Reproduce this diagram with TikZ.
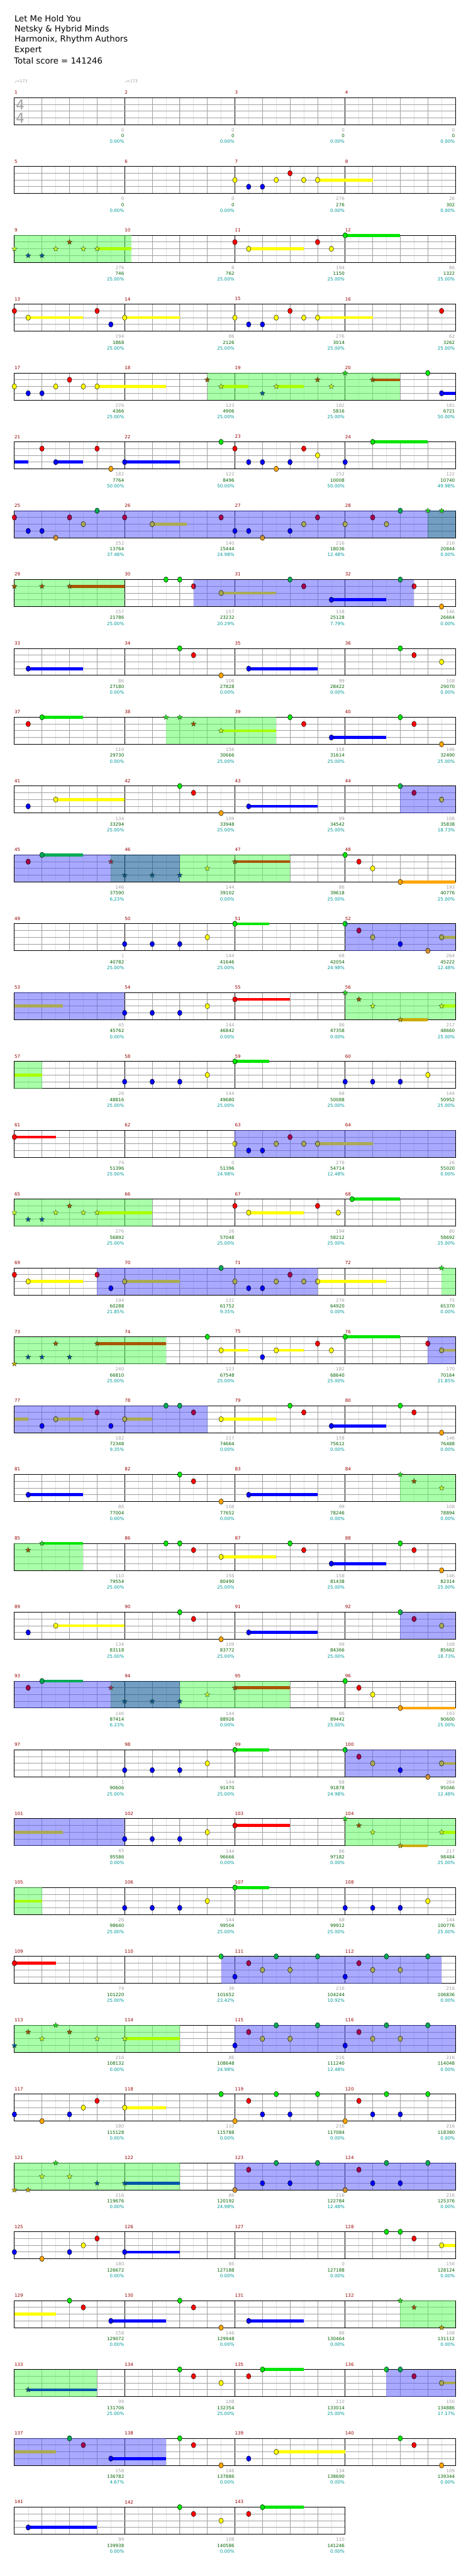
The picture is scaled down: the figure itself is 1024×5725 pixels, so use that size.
\documentclass[tikz,border=0pt]{standalone}
\usepackage{fontspec}
\setmainfont{DejaVu Sans}
\usetikzlibrary{shapes.geometric}
\definecolor{Gc}{HTML}{00E600}
\definecolor{Rc}{HTML}{FF0000}
\definecolor{Yc}{HTML}{FFFF00}
\definecolor{Bc}{HTML}{0000FF}
\definecolor{Oc}{HTML}{FFA500}
\definecolor{dG}{HTML}{00AA55}
\definecolor{dR}{HTML}{A8004F}
\definecolor{dY}{HTML}{AAAA55}
\definecolor{odOt}{HTML}{A88058}
\definecolor{sY}{HTML}{CCFF22}
\definecolor{sR}{HTML}{A05000}
\definecolor{sB}{HTML}{0050A0}
\definecolor{sG}{HTML}{22DD22}
\definecolor{sO}{HTML}{C8A000}
\definecolor{sP}{HTML}{A02868}
\definecolor{ssY}{HTML}{AAFF00}
\definecolor{ssR}{HTML}{AA5500}
\definecolor{ssB}{HTML}{0055AA}
\definecolor{ssO}{HTML}{CCAA00}
\definecolor{starline}{HTML}{2A4A1A}
\definecolor{lightl}{HTML}{E2E2E2}
\definecolor{beatl}{HTML}{A0A0A0}
\definecolor{gbgc}{HTML}{55FF55}
\definecolor{bbgc}{HTML}{5555FF}
\definecolor{tbgc}{HTML}{00508F}
\definecolor{mnumc}{HTML}{990000}
\definecolor{lgrayc}{HTML}{A0A0A0}
\definecolor{lgrnc}{HTML}{006400}
\definecolor{lpctc}{HTML}{009999}
\newcounter{stc}
\tikzset{
  notec/.style={draw=black,line width=0.6pt},
  starn/.style={star,star points=5,star point ratio=2.3,minimum size=12pt,inner sep=0pt,draw=starline,line width=0.5pt},
  leighth/.style={draw=lightl,line width=0.8pt},
  lbeat/.style={draw=beatl,line width=1pt},
  lmeas/.style={draw=black,line width=0.9pt},
  llane/.style={draw=beatl,line width=1.2pt},
  bord/.style={draw=black,line width=1.3pt},
  gbg/.style={fill=gbgc,fill opacity=0.5},
  bbg/.style={fill=bbgc,fill opacity=0.5},
  tbg/.style={fill=tbgc,fill opacity=0.55},
  mnum/.style={anchor=west,text=mnumc,font=\fontsize{10}{12}\selectfont,inner sep=0pt},
  lgray/.style={anchor=east,text=lgrayc,font=\fontsize{10}{12}\selectfont,inner sep=0pt},
  lgrn/.style={anchor=east,text=lgrnc,font=\fontsize{10}{12}\selectfont,inner sep=0pt},
  lpct/.style={anchor=east,text=lpctc,font=\fontsize{10}{12}\selectfont,inner sep=0pt},
  ttl/.style={anchor=west,text=black,font=\fontsize{18.5}{22}\selectfont,inner sep=0pt},
  tsig/.style={text=lgrayc,font=\fontsize{30}{32}\selectfont,inner sep=0pt},
  tempo/.style={anchor=west,text=lgrayc,font=\fontsize{9}{11}\selectfont,inner sep=0pt}
}
% grid of one row: row index, number of measures
\newcommand\crow[2]{%
  \pgfmathsetmacro\rtop{217+153*#1}%
  \pgfmathsetmacro\rend{32+245*#2}%
  \pgfmathtruncatemacro\rne{8*#2-1}%
  \pgfmathtruncatemacro\rnb{4*#2-1}%
  \pgfmathtruncatemacro\rnm{#2-1}%
  \foreach \vk in {1,...,\rne}{\draw[leighth] ({32+30.625*\vk},\rtop) -- ++(0,60);}
  \foreach \vk in {1,...,\rnb}{\draw[lbeat] ({32+61.25*\vk},\rtop) -- ++(0,60);}
  \foreach \vk in {1,...,\rnm}{\draw[lmeas] ({32+245*\vk},\rtop) -- ++(0,60);}
  \foreach \vk in {15,30,45}{\draw[llane] (32,{\rtop+\vk}) -- (\rend,{\rtop+\vk});}
  \draw[bord] (32,\rtop) rectangle (\rend,{\rtop+60});
  \foreach \vi in {1,...,#2}{\pgfmathtruncatemacro\rmn{4*#1+\vi}\node[mnum] (mn\rmn) at ({32+245*(\vi-1)},{\rtop-11.5}) {\rmn};}
}
\newcommand\cbg[4]{\fill[#4] ({32+61.25*#2},{217+153*#1}) rectangle ({32+61.25*#3},{217+153*#1+60});}
\newcommand\cnotes[2]{\foreach \vb/\vl/\vc in {#2}{\draw[notec,fill=\vc] ({32+61.25*\vb},{217+153*#1+15*\vl}) ellipse[x radius=5pt,y radius=6pt];}}
\newcommand\csus[2]{\foreach \va/\ve/\vl/\vc in {#2}{\fill[\vc] ({32+61.25*\va},{217+153*#1+15*\vl-3.25}) rectangle ({32+61.25*\ve},{217+153*#1+15*\vl+3.25});}}
\newcommand\cstars[2]{\foreach \vb/\vl/\vc in {#2}{\stepcounter{stc}\node[starn,fill=\vc] (st\arabic{stc}) at ({32+61.25*\vb},{217+153*#1+15*\vl}) {};}}
\newcommand\codo[2]{\foreach \vb in {#2}{\shade[top color=odOt,bottom color=Oc] ({32+61.25*\vb},{217+153*#1+60}) ellipse[x radius=5pt,y radius=6pt];\draw[notec] ({32+61.25*\vb},{217+153*#1+60}) ellipse[x radius=5pt,y radius=6pt];}}
\newcommand\chalf[5]{%
  \begin{scope}\clip ({32+61.25*#2-7},{217+153*#1+15*#3-8}) rectangle ({32+61.25*#2},{217+153*#1+15*#3+8});
  \fill[#4] ({32+61.25*#2},{217+153*#1+15*#3}) ellipse[x radius=5pt,y radius=6pt];\end{scope}
  \begin{scope}\clip ({32+61.25*#2},{217+153*#1+15*#3-8}) rectangle ({32+61.25*#2+7},{217+153*#1+15*#3+8});
  \fill[#5] ({32+61.25*#2},{217+153*#1+15*#3}) ellipse[x radius=5pt,y radius=6pt];\end{scope}
  \draw[notec] ({32+61.25*#2},{217+153*#1+15*#3}) ellipse[x radius=5pt,y radius=6pt];}
\newcommand\clabs[2]{\foreach \vi/\vg/\vn/\vp in {#2}{%
  \node[lgray] (lg#1x\vi) at ({31+245*\vi},{217+153*#1+72}) {\vg};
  \node[lgrn] (ln#1x\vi) at ({31+245*\vi},{217+153*#1+85}) {\vn};
  \node[lpct] (lp#1x\vi) at ({31+245*\vi},{217+153*#1+98}) {\vp\%};}}
% repeated row patterns
\newcommand\patA[1]{\crow{#1}{4}\cbg{#1}{14}{16}{bbg}\csus{#1}{1.5/4/2/Yc,8.5/11/3/Bc}%
  \cnotes{#1}{0.5/3/Bc,1.5/2/Yc,6/0/Gc,6.5/1/Rc,7.5/4/Oc,8.5/3/Bc,14.5/1/dR,15.5/2/dY}\chalf{#1}{14}{0}{Gc}{dG}}
\newcommand\patB[1]{\crow{#1}{4}\cbg{#1}{0}{3.5}{bbg}\cbg{#1}{3.5}{6}{tbg}\cbg{#1}{6}{10}{gbg}%
  \csus{#1}{1/2.5/0/dG,8/10/1/ssR,14/16/4/Oc}\cnotes{#1}{0.5/1/dR,1/0/dG,12/0/Gc,12.5/1/Rc,13/2/Yc,14/4/Oc}%
  \cstars{#1}{3.5/1/sP,4/3/sB,5/3/sB,6/3/sB,7/2/sY,8/1/sR}}
\newcommand\patC[1]{\crow{#1}{4}\cbg{#1}{12}{16}{bbg}\csus{#1}{8/9.25/0/Gc,15.5/16/2/dY}%
  \cnotes{#1}{4/3/Bc,5/3/Bc,6/3/Bc,7/2/Yc,8/0/Gc,12.5/1/dR,13/2/dY,14/3/Bc,15.5/2/dY}\chalf{#1}{12}{0}{Gc}{dG}\codo{#1}{15}}
\newcommand\patD[1]{\crow{#1}{4}\cbg{#1}{0}{4}{bbg}\cbg{#1}{12}{16}{gbg}%
  \csus{#1}{0/1.75/2/dY,8/10/1/Rc,14/15/4/ssO,15.5/16/2/ssY}\cnotes{#1}{4/3/Bc,5/3/Bc,6/3/Bc,7/2/Yc,8/1/Rc}%
  \cstars{#1}{12/0/sG,12.5/1/sR,13/2/sY,14/4/sO,15.5/2/sY}}
\newcommand\patE[1]{\crow{#1}{4}\cbg{#1}{0}{1}{gbg}\csus{#1}{0/1/2/ssY,8/9.25/0/Gc}%
  \cnotes{#1}{4/3/Bc,5/3/Bc,6/3/Bc,7/2/Yc,8/0/Gc,12/3/Bc,13/3/Bc,14/3/Bc,15/2/Yc}}
\begin{document}
\begin{tikzpicture}[x=1pt,y=-1pt]
\useasboundingbox (0,0) rectangle (1024,5725);
\fill[white] (0,0) rectangle (1024,5725);
\node[ttl] (t1) at (32,42) {Let Me Hold You};
\node[ttl] (t2) at (32,65) {Netsky \& Hybrid Minds};
\node[ttl] (t3) at (32,88.3) {Harmonix, Rhythm Authors};
\node[ttl] (t4) at (32,111.7) {Expert};
\node[ttl] (t5) at (31,134.5) {Total score = 141246};
\node[tempo] (tm1) at (32,180) {♩=173};
\node[tempo] (tm2) at (277,180) {♩=173};
% row 0
\crow{0}{4}
\node[tsig] (ts1) at (45,233) {4};
\node[tsig] (ts2) at (45,263) {4};
\clabs{0}{1/0/0/0.00,2/0/0/0.00,3/0/0/0.00,4/0/0/0.00}
% row 1
\crow{1}{4}
\csus{1}{11/13/2/Yc}
\cnotes{1}{8/2/Yc,8.5/3/Bc,9/3/Bc,9.5/2/Yc,10/1/Rc,10.5/2/Yc,11/2/Yc}
\clabs{1}{1/0/0/0.00,2/0/0/0.00,3/276/276/0.00,4/26/302/0.00}
% row 2
\crow{2}{4}
\cbg{2}{0}{4.25}{gbg}
\csus{2}{3/4.25/2/ssY,8.5/10.5/2/Yc,12/14/0/Gc}
\cstars{2}{0/2/sY,0.5/3/sB,1/3/sB,1.5/2/sY,2/1/sR,2.5/2/sY,3/2/sY}
\cnotes{2}{8/1/Rc,8.5/2/Yc,11/1/Rc,11.5/2/Yc,12/0/Gc}
\clabs{2}{1/276/746/25.00,2/8/762/25.00,3/194/1150/25.00,4/86/1322/25.00}
% row 3
\crow{3}{4}
\csus{3}{0.5/2.5/2/Yc,4/6/2/Yc,11/13/2/Yc}
\cnotes{3}{0/1/Rc,0.5/2/Yc,3/1/Rc,3.5/3/Bc,4/2/Yc,8/2/Yc,8.5/3/Bc,9/3/Bc,9.5/2/Yc,10/1/Rc,10.5/2/Yc,11/2/Yc,15.5/1/Rc}
\clabs{3}{1/194/1868/25.00,2/86/2126/25.00,3/276/3014/25.00,4/62/3262/25.00}
% row 4
\crow{4}{4}
\cbg{4}{7}{14}{gbg}
\csus{4}{3/5.5/2/Yc,7.5/8.5/2/ssY,9.5/10.5/2/ssY,13/14/1/ssR,15.5/16/3/Bc}
\cnotes{4}{0/2/Yc,0.5/3/Bc,1/3/Bc,1.5/2/Yc,2/1/Rc,2.5/2/Yc,3/2/Yc,15/0/Gc,15.5/3/Bc}
\cstars{4}{7/1/sR,7.5/2/sY,9/3/sB,9.5/2/sY,11/1/sR,11.5/2/sY,12/0/sG,13/1/sR}
\clabs{4}{1/276/4366/25.00,2/123/4906/25.00,3/182/5816/25.00,4/181/6721/50.00}
% row 5
\crow{5}{4}
\csus{5}{0/0.5/3/Bc,1.5/2.5/3/Bc,4/6/3/Bc,13/15/0/Gc}
\cnotes{5}{1/1/Rc,1.5/3/Bc,3/1/Rc,3.5/4/Oc,4/3/Bc,7.5/0/Gc,8/1/Rc,8.5/3/Bc,9/3/Bc,9.5/4/Oc,10/3/Bc,10.5/1/Rc,11/2/Yc,12/3/Bc,13/0/Gc}
\clabs{5}{1/182/7764/50.00,2/122/8496/50.00,3/252/10008/50.00,4/122/10740/49.98}
% row 6
\crow{6}{4}
\cbg{6}{0}{15}{bbg}\cbg{6}{15}{16}{tbg}
\csus{6}{5/6.25/2/dY}
\cnotes{6}{0.5/3/Bc,1/3/Bc,2/1/dR,2.5/2/dY,3/0/dG,4/1/dR,5/2/dY,7.5/1/dR,8/3/Bc,8.5/3/Bc,10/3/Bc,10.5/2/dY,11/1/dR,12/2/dY,13/1/dR,13.5/2/dY,14/0/dG}
\chalf{6}{0}{1}{Rc}{dR}
\codo{6}{1.5,9}
\cstars{6}{15/0/sG,15.5/0/sG}
\clabs{6}{1/252/13764/37.48,2/140/15444/24.98,3/216/18036/12.48,4/216/20844/0.00}
% row 7
\crow{7}{4}
\cbg{7}{0}{4}{gbg}\cbg{7}{6.5}{14.5}{bbg}
\csus{7}{2/4/1/ssR,7.5/9.5/2/dY,11.5/13.5/3/Bc}
\cstars{7}{0/1/sR,1/1/sR,2/1/sR}
\cnotes{7}{5.5/0/Gc,6/0/Gc,7.5/2/dY,10/0/dG,10.5/1/dR,11.5/3/Bc,14/0/dG,15.5/4/Oc}
\chalf{7}{6.5}{1}{Rc}{dR}\chalf{7}{14.5}{1}{dR}{Rc}
\clabs{7}{1/157/21786/25.00,2/157/23232/20.29,3/158/25128/7.79,4/146/26664/0.00}
% row 8
\crow{8}{4}
\csus{8}{0.5/2.5/3/Bc,8.5/11/3/Bc}
\cnotes{8}{0.5/3/Bc,6/0/Gc,6.5/1/Rc,7.5/4/Oc,8.5/3/Bc,14/0/Gc,14.5/1/Rc,15.5/2/Yc}
\clabs{8}{1/86/27180/0.00,2/108/27828/0.00,3/99/28422/0.00,4/108/29070/0.00}
% row 9
\crow{9}{4}
\cbg{9}{5.5}{9.5}{gbg}
\csus{9}{1/2.5/0/Gc,7.5/9.5/2/ssY,11.5/13.5/3/Bc}
\cnotes{9}{0.5/1/Rc,1/0/Gc,10/0/Gc,10.5/1/Rc,11.5/3/Bc,14/0/Gc,14.5/1/Rc,15.5/4/Oc}
\cstars{9}{5.5/0/sG,6/0/sG,6.5/1/sR,7.5/2/sY}
\clabs{9}{1/110/29730/0.00,2/156/30666/25.00,3/158/31614/25.00,4/146/32490/25.00}
% rows 10-14
\patA{10}
\clabs{10}{1/134/33294/25.00,2/109/33948/25.00,3/99/34542/25.00,4/108/35838/18.73}
\patB{11}
\clabs{11}{1/146/37590/6.23,2/144/39102/0.00,3/86/39618/25.00,4/193/40776/25.00}
\patC{12}
\clabs{12}{1/1/40782/25.00,2/144/41646/25.00,3/68/42054/24.98,4/264/45222/12.48}
\patD{13}
\clabs{13}{1/45/45762/0.00,2/144/46842/0.00,3/86/47358/0.00,4/217/48660/25.00}
\patE{14}
\clabs{14}{1/26/48816/25.00,2/144/49680/25.00,3/68/50088/25.00,4/144/50952/25.00}
% row 15
\crow{15}{4}
\cbg{15}{8}{16}{bbg}
\csus{15}{0/1.5/1/Rc,11/13/2/dY}
\cnotes{15}{0/1/Rc,8.5/3/Bc,9/3/Bc,9.5/2/dY,10/1/dR,10.5/2/dY,11/2/dY}
\chalf{15}{8}{2}{Yc}{dY}
\clabs{15}{1/74/51396/25.00,2/0/51396/24.98,3/276/54714/12.48,4/26/55020/0.00}
% row 16
\crow{16}{4}
\cbg{16}{0}{5}{gbg}
\csus{16}{3/5/2/ssY,8.5/10.5/2/Yc,12.25/14/0/Gc}
\cstars{16}{0/2/sY,0.5/3/sB,1/3/sB,1.5/2/sY,2/1/sR,2.5/2/sY,3/2/sY}
\cnotes{16}{8/1/Rc,8.5/2/Yc,11/1/Rc,11.75/2/Yc,12.25/0/Gc}
\clabs{16}{1/276/56892/25.00,2/26/57048/25.00,3/194/58212/25.00,4/80/58692/25.00}
% row 17
\crow{17}{4}
\cbg{17}{3}{11}{bbg}\cbg{17}{15.5}{16}{gbg}
\csus{17}{0.5/2.5/2/Yc,4/6/2/dY,11/13.5/2/Yc}
\cnotes{17}{0/1/Rc,0.5/2/Yc,3.5/3/Bc,4/2/dY,7.5/0/dG,8/2/dY,8.5/3/Bc,9/3/Bc,9.5/2/dY,10/1/dR,10.5/2/dY}
\chalf{17}{3}{1}{Rc}{dR}\chalf{17}{11}{2}{dY}{Yc}
\cstars{17}{15.5/0/sG}
\clabs{17}{1/194/60288/21.85,2/122/61752/9.35,3/276/64920/0.00,4/75/65370/0.00}
% row 18
\crow{18}{4}
\cbg{18}{0}{5.5}{gbg}\cbg{18}{15}{16}{bbg}
\csus{18}{3/5.5/1/ssR,7.5/8.5/2/Yc,9.5/10.5/2/Yc,12/14/0/Gc,15.5/16/2/dY}
\cstars{18}{0/4/sO,0.5/3/sB,1/3/sB,1.5/1/sR,2/3/sB,3/1/sR}
\cnotes{18}{7/0/Gc,7.5/2/Yc,9/3/Bc,9.5/2/Yc,11/1/Rc,11.5/2/Yc,12/0/Gc,15.5/2/dY}
\chalf{18}{15}{1}{Rc}{dR}
\clabs{18}{1/240/66810/25.00,2/123/67548/25.00,3/182/68640/25.00,4/170/70164/21.85}
% row 19
\crow{19}{4}
\cbg{19}{0}{7}{bbg}
\csus{19}{0/0.5/2/dY,1.5/2.5/2/dY,4/5/2/dY,7.5/9.5/2/Yc,11.5/13.5/3/Bc}
\cnotes{19}{1/3/Bc,1.5/2/dY,3/1/dR,3.5/3/Bc,4/2/dY,5.5/0/dG,6/0/dG,6.5/1/dR,7.5/2/Yc,10/0/Gc,10.5/1/Rc,11.5/3/Bc,14/0/Gc,14.5/1/Rc,15.5/4/Oc}
\clabs{19}{1/182/72348/9.35,2/217/74664/0.00,3/158/75612/0.00,4/146/76488/0.00}
% row 20
\crow{20}{4}
\cbg{20}{14}{16}{gbg}
\csus{20}{0.5/2.5/3/Bc,8.5/11/3/Bc}
\cnotes{20}{0.5/3/Bc,6/0/Gc,6.5/1/Rc,7.5/4/Oc,8.5/3/Bc}
\cstars{20}{14/0/sG,14.5/1/sR,15.5/2/sY}
\clabs{20}{1/86/77004/0.00,2/108/77652/0.00,3/99/78246/0.00,4/108/78894/0.00}
% row 21
\crow{21}{4}
\cbg{21}{0}{2.5}{gbg}
\csus{21}{1/2.5/0/Gc,7.5/9.5/2/Yc,11.5/13.5/3/Bc}
\cstars{21}{0.5/1/sR,1/0/sG}
\cnotes{21}{5.5/0/Gc,6/0/Gc,6.5/1/Rc,7.5/2/Yc,10/0/Gc,10.5/1/Rc,11.5/3/Bc,14/0/Gc,14.5/1/Rc,15.5/4/Oc}
\clabs{21}{1/110/79554/25.00,2/156/80490/25.00,3/158/81438/25.00,4/146/82314/25.00}
% rows 22-26
\patA{22}
\clabs{22}{1/134/83118/25.00,2/109/83772/25.00,3/99/84366/25.00,4/108/85662/18.73}
\patB{23}
\clabs{23}{1/146/87414/6.23,2/144/88926/0.00,3/86/89442/25.00,4/193/90600/25.00}
\patC{24}
\clabs{24}{1/1/90606/25.00,2/144/91470/25.00,3/68/91878/24.98,4/264/95046/12.48}
\patD{25}
\clabs{25}{1/45/95586/0.00,2/144/96666/0.00,3/86/97182/0.00,4/217/98484/25.00}
\patE{26}
\clabs{26}{1/26/98640/25.00,2/144/99504/25.00,3/68/99912/25.00,4/144/100776/25.00}
% row 27
\crow{27}{4}
\cbg{27}{7.5}{15.5}{bbg}
\csus{27}{0/1.5/1/Rc}
\cnotes{27}{0/1/Rc,8/3/Bc,8.5/1/dR,9/2/dY,9.5/0/dG,10/2/dY,11/0/dG,12/3/Bc,12.5/1/dR,13/2/dY,13.5/0/dG,14/2/dY,15/0/dG}
\chalf{27}{7.5}{0}{Gc}{dG}
\clabs{27}{1/74/101220/25.00,2/36/101652/23.42,3/216/104244/10.92,4/216/106836/0.00}
% row 28
\crow{28}{4}
\cbg{28}{0}{6}{gbg}\cbg{28}{8}{16}{bbg}
\csus{28}{4/6/2/ssY}
\cstars{28}{0/3/sB,0.5/1/sR,1/2/sY,1.5/0/sG,2/1/sR,3/2/sY,4/2/sY}
\cnotes{28}{8/3/Bc,8.5/1/dR,9/2/dY,9.5/0/dG,10/2/dY,11/0/dG,12/3/Bc,12.5/1/dR,13/2/dY,13.5/0/dG,14/2/dY,15/0/dG}
\clabs{28}{1/216/108132/0.00,2/86/108648/24.98,3/216/111240/12.48,4/216/114048/0.00}
% row 29
\crow{29}{4}
\csus{29}{4/5.5/2/Yc}
\cnotes{29}{0/3/Bc,1/4/Oc,2/3/Bc,2.5/2/Yc,3/1/Rc,4/2/Yc,7.5/0/Gc,8/4/Oc,8.5/1/Rc,9/3/Bc,9.5/0/Gc,10/3/Bc,11/0/Gc,12/4/Oc,12.5/1/Rc,13/3/Bc,13.5/0/Gc,14/3/Bc,15/0/Gc}
\clabs{29}{1/180/115128/0.00,2/110/115788/0.00,3/216/117084/0.00,4/216/118380/0.00}
% row 30
\crow{30}{4}
\cbg{30}{0}{6}{gbg}\cbg{30}{8}{16}{bbg}
\csus{30}{4/6/3/ssB}
\cstars{30}{0/4/sO,0.5/4/sO,1/2/sY,1.5/0/sG,2/2/sY,3/3/sB,4/3/sB}
\cnotes{30}{8.5/1/dR,9/3/Bc,9.5/0/dG,10/3/Bc,11/0/dG,12.5/1/dR,13/3/Bc,13.5/0/dG,14/3/Bc,15/0/dG}
\codo{30}{8,12}
\clabs{30}{1/216/119676/0.00,2/86/120192/24.98,3/216/122784/12.48,4/216/125376/0.00}
% row 31
\crow{31}{4}
\csus{31}{4/6/3/Bc,15.5/16/2/Yc}
\cnotes{31}{0/3/Bc,1/4/Oc,2/3/Bc,2.5/2/Yc,3/1/Rc,4/3/Bc,13.5/0/Gc,14/0/Gc,14.5/1/Rc,15.5/2/Yc}
\clabs{31}{1/180/126672/0.00,2/86/127188/0.00,3/0/127188/0.00,4/156/128124/0.00}
% row 32
\crow{32}{4}
\cbg{32}{14}{16}{gbg}
\csus{32}{0/1.5/2/Yc,3.5/5.5/3/Bc,8.5/10.5/3/Bc}
\cnotes{32}{2/0/Gc,2.5/1/Rc,3.5/3/Bc,6/0/Gc,6.5/1/Rc,7.5/4/Oc,8.5/3/Bc}
\cstars{32}{14/0/sG,14.5/1/sR,15.5/4/sO}
\clabs{32}{1/158/129072/0.00,2/146/129948/0.00,3/86/130464/0.00,4/108/131112/0.00}
% row 33
\crow{33}{4}
\cbg{33}{0}{3}{gbg}\cbg{33}{13.5}{16}{bbg}
\csus{33}{0.5/3/3/ssB,9/10.5/0/Gc,15.5/16/2/dY}
\cstars{33}{0.5/3/sB}
\cnotes{33}{6/0/Gc,6.5/1/Rc,7.5/2/Yc,8.5/1/Rc,9/0/Gc,14/0/dG,14.5/1/dR,15.5/2/dY}
\chalf{33}{13.5}{0}{Gc}{dG}
\clabs{33}{1/99/131706/25.00,2/108/132354/25.00,3/110/133014/25.00,4/156/134886/17.17}
% row 34
\crow{34}{4}
\cbg{34}{0}{5.5}{bbg}
\csus{34}{0/1.5/2/dY,3.5/5.5/3/Bc,9.5/12/2/Yc}
\cnotes{34}{2/0/dG,2.5/1/dR,3.5/3/Bc,6/0/Gc,6.5/1/Rc,7.5/4/Oc,8.5/3/Bc,9.5/2/Yc,14/0/Gc,14.5/1/Rc,15.5/4/Oc}
\clabs{34}{1/158/136782/4.67,2/146/137886/0.00,3/134/138690/0.00,4/109/139344/0.00}
% row 35
\crow{35}{3}
\csus{35}{0.5/3/3/Bc,9/10.5/0/Gc}
\cnotes{35}{0.5/3/Bc,6/0/Gc,6.5/1/Rc,7.5/2/Yc,8.5/1/Rc,9/0/Gc}
\clabs{35}{1/99/139938/0.00,2/108/140586/0.00,3/110/141246/0.00}
\end{tikzpicture}
\end{document}
